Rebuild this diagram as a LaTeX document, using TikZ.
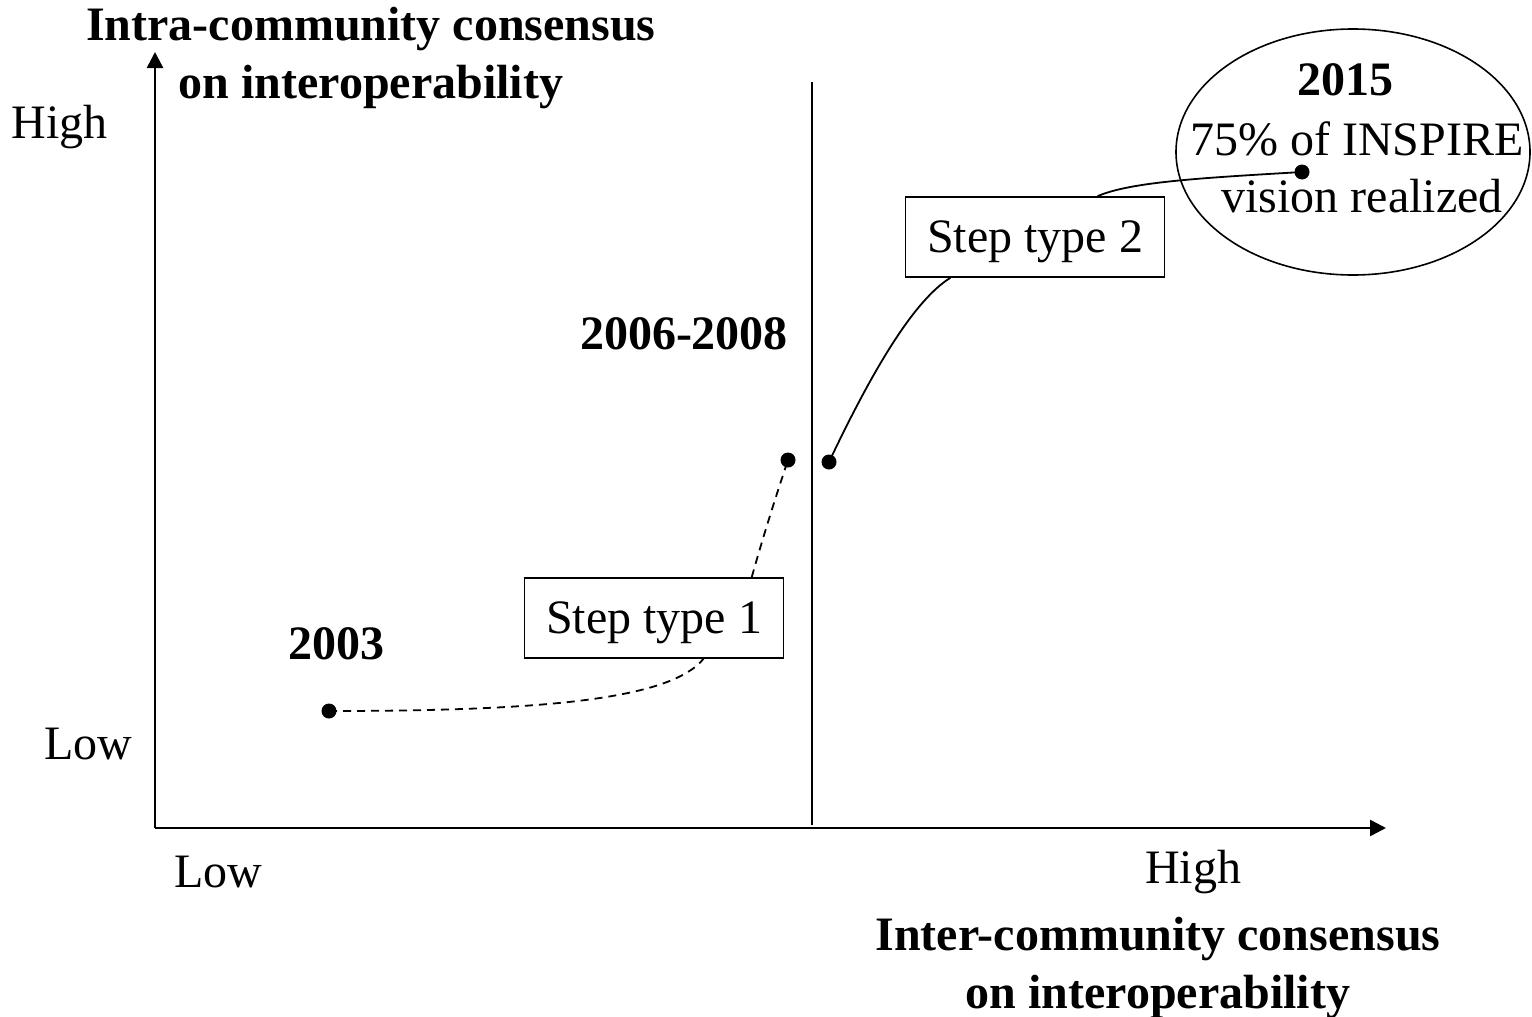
\documentclass[tikz,border=0pt]{standalone}
\usepackage{fontspec}
\setmainfont{Liberation Serif}
\usetikzlibrary{arrows.meta,calc,shapes.geometric}
\begin{document}
\begin{tikzpicture}[x=1pt,y=-1pt,
  txt/.style={inner sep=0pt,font=\fontsize{48}{58}\selectfont},
  btxt/.style={inner sep=0pt,font=\fontsize{48}{58}\selectfont\bfseries,align=center},
  dot/.style={circle,fill=black,inner sep=0pt,minimum size=15pt},
  stepbox/.style={draw,line width=1.6pt,inner sep=0pt,minimum width=259pt,minimum height=80pt,text depth=0pt,font=\fontsize{48}{58}\selectfont},
  axis/.style={line width=2.6pt,-{Triangle[length=16pt,width=16pt]}},
  dsh/.style={line width=1.8pt,dash pattern=on 8pt off 6pt},
  sol/.style={line width=1.8pt}]
\useasboundingbox (0,0) rectangle (1532,1017);
% axes
\coordinate (o) at (155,828);
\coordinate (ytip) at (155,52);
\coordinate (xtip) at (1386,828);
\draw[axis] (o) -- (ytip);
\draw[axis] (o) -- (xtip);
\coordinate (dtop) at (812,82);
\coordinate (dbot) at (812,825);
\draw[line width=1.8pt] (dtop) -- (dbot);
% axis labels
\node[btxt] (ylab) at (371,58) {Intra-community consensus\\on interoperability};
\node[txt] (yhigh) at (60,127) {High};
\node[txt] (ylow) at (88,744) {Low};
\node[txt] (xlow) at (218,872) {Low};
\node[txt] (xhigh) at (1193,872) {High};
\node[btxt] (xlab) at (1158,968) {Inter-community consensus\\on interoperability};
% years
\node[btxt] (y2003) at (336,644) {2003};
\node[btxt] (y2006) at (684,334) {2006-2008};
% ellipse
\node[draw,ellipse,line width=1.6pt,minimum width=354pt,minimum height=246pt,inner sep=0pt] (ell) at (1353,152) {};
\node[btxt] (y2015) at (1345,80) {2015};
\node[txt] (pct) at (1357,139) {75\% of INSPIRE};
\node[txt] (vis) at (1362,196) {vision realized};
% dots
\node[dot] (d1) at (329,711) {};
\node[dot] (d2) at (788,460) {};
\node[dot] (d3) at (829,462) {};
\node[dot] (d4) at (1302,172) {};
% boxes
\node[stepbox] (s1) at (654,618) {Step type 1};
\node[stepbox] (s2) at (1035,237) {Step type 2};
% connectors
\coordinate (s1b) at ($(s1.south west)!0.69!(s1.south east)$);
\coordinate (s1t) at ($(s1.north west)!0.875!(s1.north east)$);
\coordinate (s2b) at ($(s2.south west)!0.175!(s2.south east)$);
\coordinate (s2t) at ($(s2.north west)!0.74!(s2.north east)$);
\draw[dsh] (d1.center) .. controls (540,711) and (670,700) .. (s1b);
\draw[dsh] (s1t) .. controls (765,530) and (778,490) .. (d2.center);
\draw[sol] (d3.center) .. controls (875,365) and (915,300) .. (s2b);
\draw[sol] (s2t) .. controls (1130,182) and (1200,178) .. (d4.center);
\end{tikzpicture}
\end{document}
